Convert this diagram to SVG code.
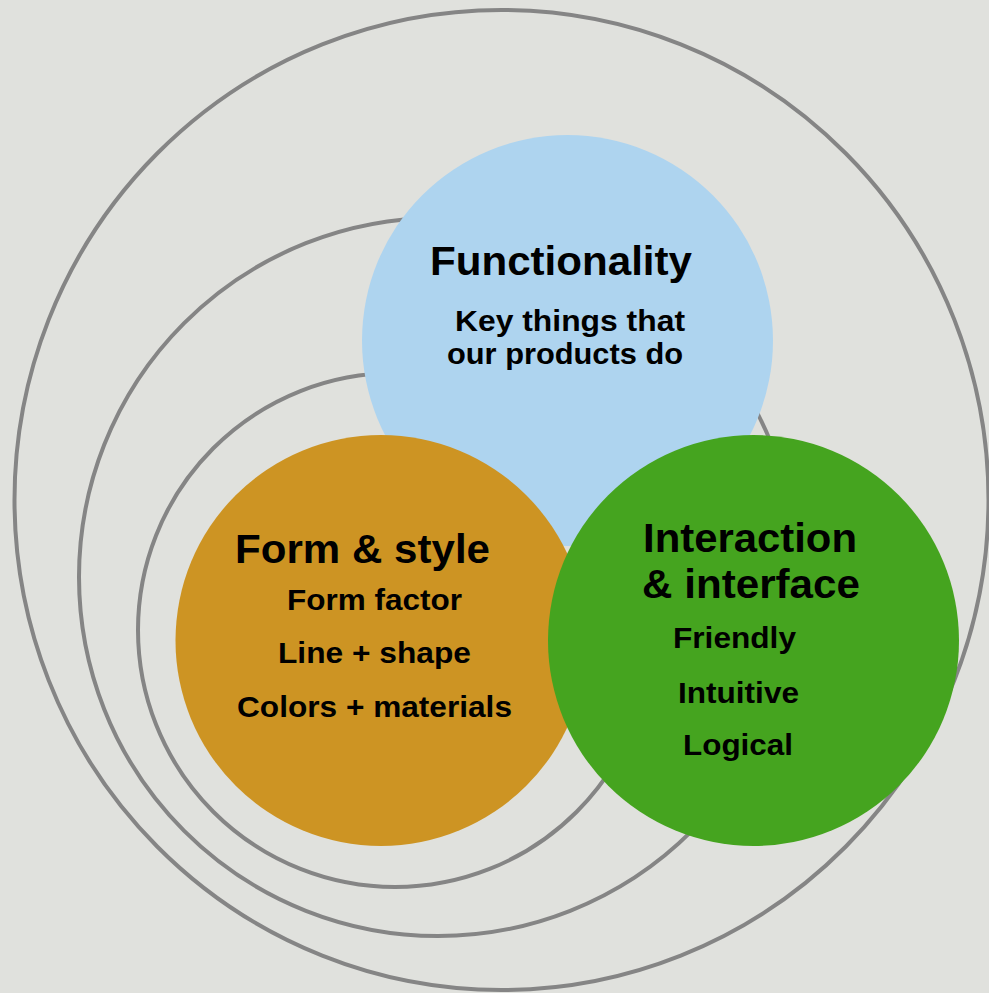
<svg xmlns="http://www.w3.org/2000/svg" width="989" height="993" viewBox="0 0 989 993">
<style>
.ring{fill:none;stroke:#858585;stroke-width:4}
.t{font-family:"Liberation Sans",Arial,sans-serif;font-weight:bold;fill:#000;text-anchor:middle}
.h{font-size:41px}
.s{font-size:29.5px}
</style>
<rect width="989" height="993" fill="#e0e1dd"/>
<g id="rings">
<ellipse class="ring" cx="501.5" cy="500" rx="487" ry="490"/>
<circle class="ring" cx="438" cy="577" r="359"/>
<circle class="ring" cx="395" cy="630" r="257"/>
</g>
<g id="functionality">
<circle cx="567.5" cy="340.5" r="205.5" fill="#aed4ef"/>
<text class="t h" x="561" y="275" textLength="262" lengthAdjust="spacingAndGlyphs">Functionality</text>
<text class="t s" x="570" y="331" textLength="230" lengthAdjust="spacingAndGlyphs">Key things that</text>
<text class="t s" x="565" y="364" textLength="236" lengthAdjust="spacingAndGlyphs">our products do</text>
</g>
<g id="form-style">
<circle cx="381" cy="640.5" r="205.5" fill="#cd9423"/>
<text class="t h" x="362.5" y="563" textLength="255" lengthAdjust="spacingAndGlyphs">Form &amp; style</text>
<text class="t s" x="374.5" y="610" textLength="175" lengthAdjust="spacingAndGlyphs">Form factor</text>
<text class="t s" x="374.5" y="663" textLength="193" lengthAdjust="spacingAndGlyphs">Line + shape</text>
<text class="t s" x="374.5" y="717" textLength="275" lengthAdjust="spacingAndGlyphs">Colors + materials</text>
</g>
<g id="interaction">
<circle cx="753.5" cy="640.5" r="205.5" fill="#45a41f"/>
<text class="t h" x="750" y="552" textLength="214" lengthAdjust="spacingAndGlyphs">Interaction</text>
<text class="t h" x="751" y="598" textLength="218" lengthAdjust="spacingAndGlyphs">&amp; interface</text>
<text class="t s" x="734.5" y="648" textLength="123" lengthAdjust="spacingAndGlyphs">Friendly</text>
<text class="t s" x="738.5" y="703" textLength="121" lengthAdjust="spacingAndGlyphs">Intuitive</text>
<text class="t s" x="738" y="755" textLength="110" lengthAdjust="spacingAndGlyphs">Logical</text>
</g>
<g id="connectors"/>
</svg>
